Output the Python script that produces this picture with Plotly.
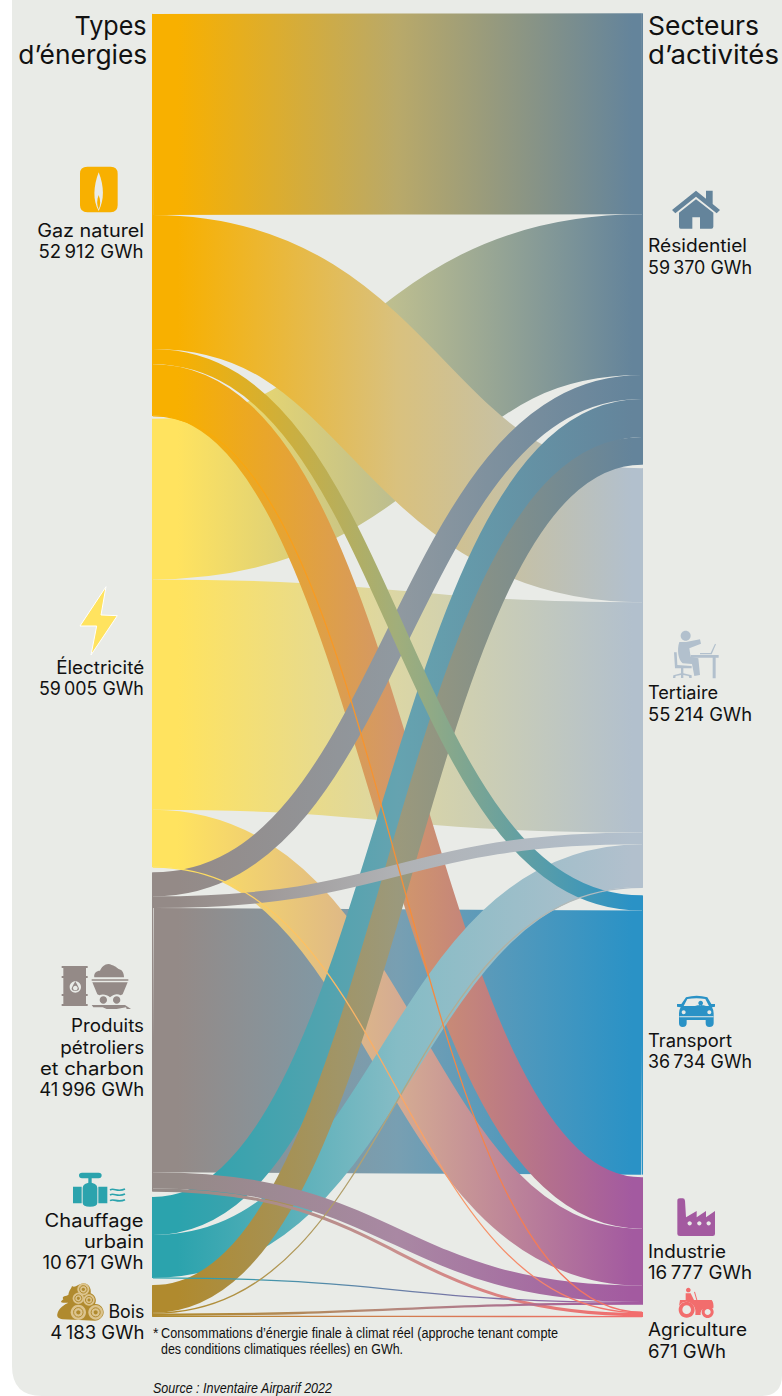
import re
import json
import plotly.graph_objects as go

W, H = 782, 1396

# ---- data (GWh) ----
node_names = ["Gaz naturel", "Électricité", "Produits pétroliers et charbon", "Chauffage urbain", "Bois",
              "Résidentiel", "Tertiaire", "Transport", "Industrie", "Agriculture"]
node_colors = ["#F8B000", "#FFE35F", "#948A87", "#2BA3AD", "#B08A2E",
               "#64849B", "#B2C0CD", "#2A92C6", "#A35AA0", "#F26D6D"]
link_source = [0, 1, 2, 1, 0, 1, 0, 3, 3, 4, 2, 0, 2, 2, 2, 3, 4, 4, 4, 0, 1]
link_target = [5, 6, 7, 5, 6, 8, 8, 6, 5, 5, 5, 7, 6, 8, 9, 8, 6, 8, 9, 9, 9]
link_value = [26440, 30300, 34732, 21140, 17634, 7505, 6758, 5620, 5000, 3640, 3150,
              2002, 1550, 2164, 400, 51, 110, 300, 133, 78, 60]

INK = "#111111"
FONT = "Inter"
SMALL = "Liberation Sans"
NB = "\u2009"

# ---- layout geometry (px) ----
sx0, sx1, sy0, sy1 = 152, 643, 14, 1317
centers = [215, 643, 1032, 1237.5, 1301, 239, 678, 1035, 1241, 1314.5]
node_x = [0.001] * 5 + [0.999] * 5
node_y = [(c - sy0) / (sy1 - sy0) for c in centers]


def Z(ox, oy, s):
    """Path written in 3x crop coordinates -> paper coordinates."""
    toks = re.findall(r"[MLCQZ]|-?[\d.]+", s)
    out, isx = [], True
    for t in toks:
        if t in "MLCQZ":
            out.append(t)
            isx = True
        elif isx:
            out.append(f"{(float(t) / 3 + ox) / W:.5f},")
            isx = False
        else:
            out.append(f"{1 - (float(t) / 3 + oy) / H:.5f}")
            isx = True
    return " ".join(out)


def circ(cx, cy, r):
    k = 0.5523 * r
    return (f"M {cx-r} {cy} C {cx-r} {cy-k} {cx-k} {cy-r} {cx} {cy-r} C {cx+k} {cy-r} {cx+r} {cy-k} {cx+r} {cy} "
            f"C {cx+r} {cy+k} {cx+k} {cy+r} {cx} {cy+r} C {cx-k} {cy+r} {cx-r} {cy+k} {cx-r} {cy} Z ")


shapes = []


def icon(ox, oy, s, color, line=None, lw=0, fill=True):
    shapes.append(dict(type="path", xref="paper", yref="paper", layer="below", path=Z(ox, oy, s),
                       fillcolor=color if fill else "rgba(0,0,0,0)",
                       line=dict(color=line or color, width=lw)))


# panel
icon(0, 0, "M 36 0 L 2346 0 L 2346 4125 Q 2346 4188 2283 4188 L 126 4188 Q 36 4188 36 4098 Z", "#E9EBE7")

# gas
icon(0, 0, "M 262 500 L 332 500 Q 353 500 353 521 L 353 616 Q 353 637 332 637 L 262 637 Q 240 637 240 616 L 240 521 Q 240 500 262 500 Z "
     "M 296 517 C 280 560 278 600 296 633 C 313 600 313 560 296 517 Z", "#F8B000")
icon(0, 0, "M 296 585 C 290 600 290 615 296 628 C 302 615 302 600 296 585 Z", "#F8B000")
# lightning
icon(0, 560, "M 318 80 L 240 198 L 290 198 L 273 285 L 352 167 L 303 165 Z", "#FFE35F", line="#FFFFFF", lw=1)
# barrel + coal
icon(0, 940, "M 185 78 L 263 78 L 263 84 L 258 84 L 258 108 L 263 108 L 263 114 L 258 114 L 258 162 L 263 162 L 263 168 L 258 168 L 258 192 L 263 192 L 263 198 "
     "L 185 198 L 185 192 L 190 192 L 190 168 L 185 168 L 185 162 L 190 162 L 190 114 L 185 114 L 185 108 L 190 108 L 190 84 L 185 84 Z "
     + circ(226, 141, 17), "#948A87")
icon(0, 940, "M 226 124 C 218 138 215 144 215 147 C 215 155 237 155 237 147 C 237 144 234 138 226 124 Z " + circ(226, 144, 7), "#948A87")
icon(0, 940, "M 283 112 C 280 100 290 92 300 92 C 305 78 322 66 335 75 C 350 80 352 85 358 88 C 368 90 372 102 372 112 Z "
     "M 275 118 L 385 118 L 385 122 L 275 122 Z M 277 127 L 383 127 L 368 163 L 362 166 C 352 160 342 162 330 172 C 320 162 305 162 298 166 L 292 163 Z "
     + circ(310, 180, 11) + circ(350, 180, 11) + "M 275 195 L 375 195 L 393 207 L 380 207 L 378 202 L 350 207 L 320 207 L 308 202 L 280 202 Z", "#948A87")
# pipe
icon(0, 1160, "M 246 38 L 296 38 Q 305 38 305 46 Q 305 55 296 55 L 246 55 Q 237 55 237 46 Q 237 38 246 38 Z "
     "M 265 55 L 275 55 L 275 68 L 285 72 Q 292 76 292 84 L 292 128 Q 292 140 270 140 Q 248 140 248 128 L 248 84 Q 248 76 255 72 L 265 68 Z "
     "M 219 80 L 245 80 L 245 130 L 219 130 Z M 295 80 L 322 80 L 322 130 L 295 130 Z", "#2BA3AD")
for wy in (90, 105, 122):
    icon(0, 1160, f"M 330 {wy} C 342 {wy-8} 352 {wy+8} 375 {wy-3}", "#2BA3AD", lw=1.6, fill=False)
# wood
icon(0, 1160, "M 172 462 C 175 445 195 432 205 428 C 178 430 180 425 190 418 C 183 408 200 408 205 405 C 208 388 215 385 216 378 C 225 385 235 372 250 370 "
     "C 265 370 275 385 272 400 C 285 405 292 420 285 432 C 300 430 312 445 311 458 C 310 472 295 482 285 482 L 188 478 C 175 476 170 470 172 462 Z", "#B08A2E")
for cx, cy, r in [(235, 457, 23), (287, 457, 22), (235, 415, 17), (267, 420, 17), (250, 388, 18)]:
    icon(0, 1160, circ(cx, cy, r), "#DCC48E")
    icon(0, 1160, circ(cx, cy, r * 0.62), "#DCC48E", line="#B08A2E", lw=1)
    icon(0, 1160, circ(cx, cy, r * 0.28), "#B08A2E")
# house
icon(560, 0, "M 336 630 L 408 572 L 438 596 L 438 572 L 458 572 L 458 612 L 480 630 L 470 640 L 408 590 L 346 640 Z", "#64849B")
icon(560, 0, "M 357 638 L 408 598 L 460 638 L 460 680 Q 460 686 454 686 L 420 686 L 420 652 L 397 652 L 397 686 L 362 686 Q 357 686 357 680 Z", "#64849B")
# office worker
c_t = "#B2C0CD"
icon(560, 340, circ(377, 887, 15), c_t)
icon(560, 340, "M 358 906 L 378 906 L 420 898 L 423 911 L 388 925 L 392 950 L 415 955 L 420 1005 L 403 1008 L 396 972 L 368 970 C 355 960 350 930 358 906 Z", c_t)
icon(560, 340, "M 342 937 L 350 937 L 352 975 L 395 978 L 395 985 L 370 985 L 370 1000 L 395 1006 L 395 1014 L 388 1014 L 386 1008 L 370 1005 L 370 1014 L 363 1014 "
     "L 363 1005 L 347 1008 L 346 1014 L 339 1014 L 340 1006 L 363 1000 L 363 985 L 345 985 Z", c_t)
icon(560, 340, "M 392 945 L 476 945 L 476 953 L 467 953 L 467 1015 L 458 1015 L 458 953 L 392 953 Z", c_t)
icon(560, 340, "M 420 939 L 452 939 L 465 911 L 468 913 L 455 943 L 420 943 Z", c_t)
# car
icon(540, 820, "M 438 532 Q 470 522 502 532 L 514 552 L 525 552 L 525 560 L 516 562 Q 521 570 521 580 L 521 610 Q 521 621 508 621 Q 497 621 497 610 L 497 600 "
     "L 440 600 L 440 610 Q 440 621 428 621 Q 417 621 417 610 L 417 580 Q 417 570 422 562 L 411 560 L 411 552 L 424 552 Z "
     "M 442 537 L 431 558 L 507 558 L 496 537 Q 470 533 442 537 Z " + circ(431, 577, 6) + circ(508, 577, 6)
     + "M 418 589 L 520 589 L 520 592 L 418 592 Z", "#2A92C6")
icon(540, 820, circ(482, 549, 7) + "M 465 558 Q 482 552 498 558 Z", "#2A92C6")
# factory
icon(540, 1160, "M 412 122 Q 412 115 420 115 L 428 115 Q 434 115 435 122 L 438 172 L 470 153 L 470 172 L 498 153 L 498 172 L 525 153 L 525 222 Q 525 228 518 228 L 420 228 Q 412 228 412 222 Z "
     + circ(449, 190, 6.5) + circ(478, 190, 6.5) + circ(506, 190, 6.5), "#A35AA0")
# tractor
c_a = "#F26D6D"
icon(540, 1160, circ(440, 449, 24) + circ(440, 449, 13) + circ(503, 456, 18) + circ(503, 456, 9), c_a)
icon(540, 1160, circ(445, 390, 7) + "M 437 400 L 452 400 L 462 420 L 437 420 Z M 462 396 L 465 395 L 472 420 L 469 420 Z", c_a)
icon(540, 1160, "M 420 420 L 515 420 Q 522 428 520 445 L 492 445 Q 480 450 482 465 L 466 465 Q 470 430 440 425 Q 425 425 417 438 Z", c_a)

# ---- texts ----
annotations = []
squeeze = {}


def txt(s, x, y, anchor, size=18, width=None, family=FONT, style="normal"):
    annotations.append(dict(text=s, x=x / W, y=1 - y / H, xref="paper", yref="paper", xanchor=anchor, yanchor="middle",
                            align=anchor, showarrow=False, borderpad=0,
                            font=dict(size=size, color=INK, family=family, style=style)))
    if width:
        squeeze[s] = width


for s, y, w in [("Types", 25, 72), ("d’énergies", 54, 129)]:
    txt(s, 147.5, y, "right", 26, w)
for s, y, w in [("Secteurs", 25, 111), ("d’activités", 54, 131)]:
    txt(s, 647, y, "left", 26, w)
for s, y, w in [("Gaz naturel", 230, 107), (f"52{NB}912 GWh", 251, 105), ("Électricité", 667, 88), (f"59{NB}005 GWh", 689, 105),
                ("Produits", 1025, 73), ("pétroliers", 1047, 84), ("et charbon", 1068, 104), (f"41{NB}996 GWh", 1089, 105),
                ("Chauffage", 1220, 99), ("urbain", 1241, 60), (f"10{NB}671 GWh", 1262, 101), ("Bois", 1311, 36),
                (f"4{NB}183 GWh", 1332, 94)]:
    txt(s, 145, y, "right", 18, w)
for s, y, w in [("Résidentiel", 246, 99), (f"59{NB}370 GWh", 267, 104), ("Tertiaire", 692, 70), (f"55{NB}214 GWh", 714, 104),
                ("Transport", 1040, 84), (f"36{NB}734 GWh", 1061, 104), ("Industrie", 1251, 78), (f"16{NB}777 GWh", 1272, 104),
                ("Agriculture", 1329, 99), ("671 GWh", 1351, 78)]:
    txt(s, 647, y, "left", 18, w)
txt("*", 152, 1333, "left", 14, family=SMALL)
txt("Consommations d’énergie finale à climat réel (approche tenant compte", 160, 1333, "left", 14, 397, SMALL)
txt("des conditions climatiques réelles) en GWh.", 160, 1349, "left", 14, 242, SMALL)
txt("Source : Inventaire Airparif 2022", 152, 1388, "left", 14, 179, SMALL, "italic")

fig = go.Figure(go.Sankey(
    arrangement="fixed",
    domain=dict(x=[sx0 / W, sx1 / W], y=[1 - sy1 / H, 1 - sy0 / H]),
    node=dict(label=[""] * len(node_names), customdata=node_names, x=node_x, y=node_y, pad=5, thickness=1,
              color=node_colors, line=dict(width=0), hovertemplate="%{customdata}: %{value} GWh<extra></extra>"),
    link=dict(source=link_source, target=link_target, value=link_value,
              color=[node_colors[i] for i in link_source], hovertemplate="%{value} GWh<extra></extra>"),
))
fig.update_layout(width=W, height=H, margin=dict(l=0, r=0, t=0, b=0), paper_bgcolor="#FFFFFF",
                  font=dict(family=FONT), shapes=shapes, annotations=annotations, showlegend=False)

post = """
var gd = document.getElementById('{plot_id}');
document.body.style.margin = '0';
var squeeze = SQUEEZE;
function hex(c) { return [1, 3, 5].map(function (i) { return parseInt(c.substr(i, 2), 16); }); }
function mid(a, b, k) {
  var A = hex(a), B = hex(b), P = [233, 235, 231];
  return 'rgb(' + A.map(function (v, i) { return Math.round((v + B[i]) / 2 * (1 - k) + P[i] * k); }).join(',') + ')';
}
function paint() {
  var svg = gd.querySelector('svg.main-svg');
  var ns = 'http://www.w3.org/2000/svg';
  var defs = svg.querySelector('defs');
  var tr = gd.data[0], cols = tr.node.color;
  gd.querySelectorAll('.sankey-link').forEach(function (el) {
    var d = el.__data__, l = d.link, i = l.pointNumber;
    var x0 = l.source.x1, x1 = l.target.x0, xm = (x0 + x1) / 2;
    var thin = l.width < 1.3;
    var id = 'lg' + i;
    if (!document.getElementById(id)) {
      var g = document.createElementNS(ns, 'linearGradient');
      var a = cols[tr.link.source[i]], b = cols[tr.link.target[i]];
      g.setAttribute('id', id);
      g.setAttribute('gradientUnits', 'userSpaceOnUse');
      g.setAttribute('x1', x0); g.setAttribute('x2', x1);
      g.setAttribute('y1', 0); g.setAttribute('y2', 0);
      [[0.05, a], [0.5, mid(a, b, thin ? 0 : 0.18)], [0.98, b]].forEach(function (s) {
        var st = document.createElementNS(ns, 'stop');
        st.setAttribute('offset', s[0]); st.setAttribute('stop-color', s[1]);
        g.appendChild(st);
      });
      defs.appendChild(g);
    }
    el.setAttribute('d', 'M' + x0 + ',' + l.y0 + 'C' + xm + ',' + l.y0 + ' ' + xm + ',' + l.y1 + ' ' + x1 + ',' + l.y1);
    el.style.fill = 'none';
    el.style.stroke = 'url(#' + id + ')';
    el.style.strokeOpacity = 1;
    el.style.strokeWidth = Math.max(l.width, 1.3) + 'px';
  });
  gd.querySelectorAll('.annotation-text').forEach(function (t) {
    var w = squeeze[t.textContent];
    if (w) { t.setAttribute('textLength', w); t.setAttribute('lengthAdjust', 'spacingAndGlyphs'); }
  });
}
paint();
gd.on('plotly_afterplot', paint);
""".replace("SQUEEZE", json.dumps(squeeze, ensure_ascii=False))
fig.write_html("out.html", post_script=post, config=dict(displayModeBar=False))
